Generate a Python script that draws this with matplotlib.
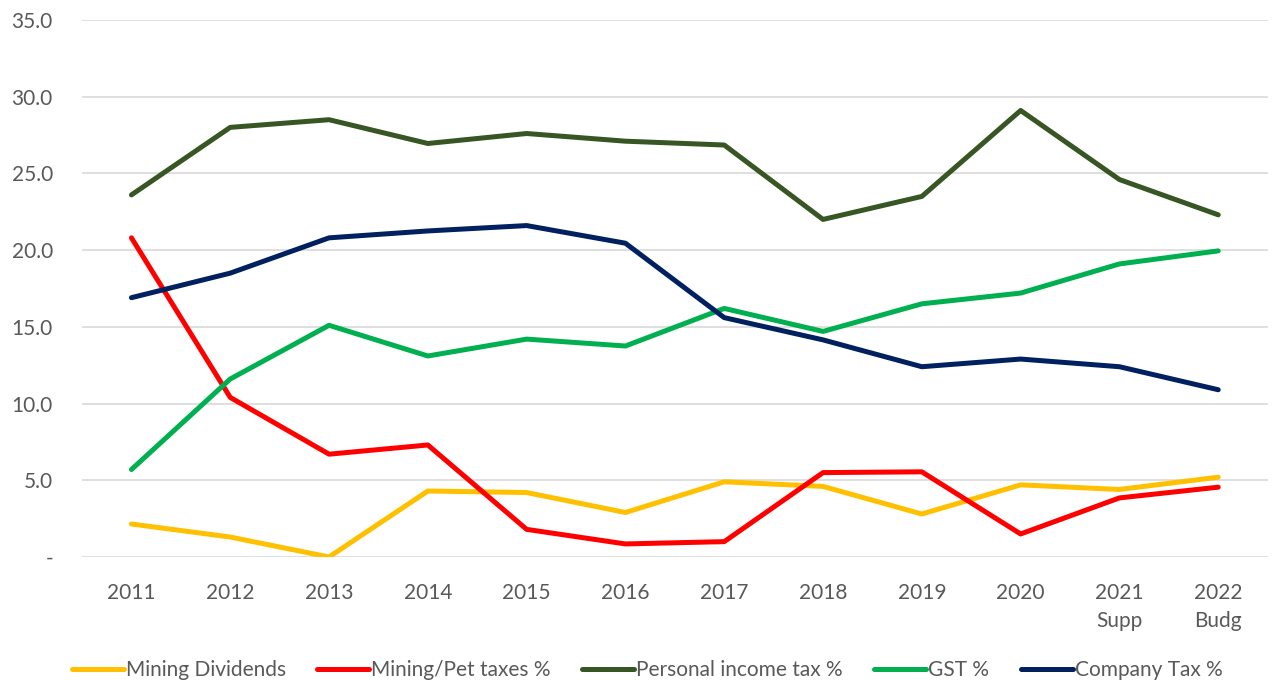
import matplotlib.pyplot as plt
from matplotlib.ticker import FuncFormatter

# ========== data ==========
years = ['2011', '2012', '2013', '2014', '2015', '2016', '2017', '2018', '2019',
         '2020', '2021\nSupp', '2022\nBudg']
mining_div = [2.15, 1.3, 0.0, 4.3, 4.2, 2.9, 4.9, 4.6, 2.8, 4.7, 4.4, 5.2]
mining_pet = [20.8, 10.4, 6.7, 7.3, 1.8, 0.85, 1.0, 5.5, 5.55, 1.5, 3.85, 4.55]
personal_tax = [23.6, 28.0, 28.5, 26.95, 27.6, 27.1, 26.85, 22.0, 23.5, 29.1, 24.6, 22.3]
gst = [5.7, 11.6, 15.1, 13.1, 14.2, 13.75, 16.2, 14.7, 16.5, 17.2, 19.1, 19.95]
company_tax = [16.9, 18.5, 20.8, 21.25, 21.6, 20.45, 15.6, 14.15, 12.4, 12.9, 12.4, 10.9]

series = [
    ('Mining Dividends', mining_div, '#FFC000'),
    ('Mining/Pet taxes %', mining_pet, '#FF0000'),
    ('Personal income tax %', personal_tax, '#375623'),
    ('GST %', gst, '#00B050'),
    ('Company Tax %', company_tax, '#002060'),
]

plt.rcParams['font.family'] = ['Lato', 'DejaVu Sans']
grey = '#595959'

fig = plt.figure(figsize=(12.74, 6.84), dpi=100)
ax = fig.add_axes([0.0644, 0.1857, 0.9306, 0.7851])

x = range(len(years))
for name, vals, col in series:
    ax.plot(x, vals, color=col, lw=3.6, label=name, solid_capstyle='round',
            solid_joinstyle='round')

ax.set_xlim(-0.5, len(years) - 0.5)
ax.set_ylim(0, 35)
ax.set_yticks(range(0, 36, 5))
ax.yaxis.set_major_formatter(FuncFormatter(lambda v, p: '-' if v == 0 else f'{v:.1f}'))
ax.set_xticks(list(x))
ax.set_xticklabels(years, linespacing=1.45)
ax.grid(axis='y', color='#D9D9D9', lw=1.2)
ax.set_axisbelow(True)
for s in ax.spines.values():
    s.set_visible(False)
ax.tick_params(length=0, labelsize=15, colors=grey)
ax.tick_params(axis='x', pad=19)
ax.tick_params(axis='y', pad=21)

fig.legend(loc='lower center', bbox_to_anchor=(0.508, -0.022), ncol=5, frameon=False,
           fontsize=15, labelcolor=grey, handlelength=2.5, handletextpad=0.1,
           columnspacing=1.5)

fig.savefig('out.png', dpi=100)
